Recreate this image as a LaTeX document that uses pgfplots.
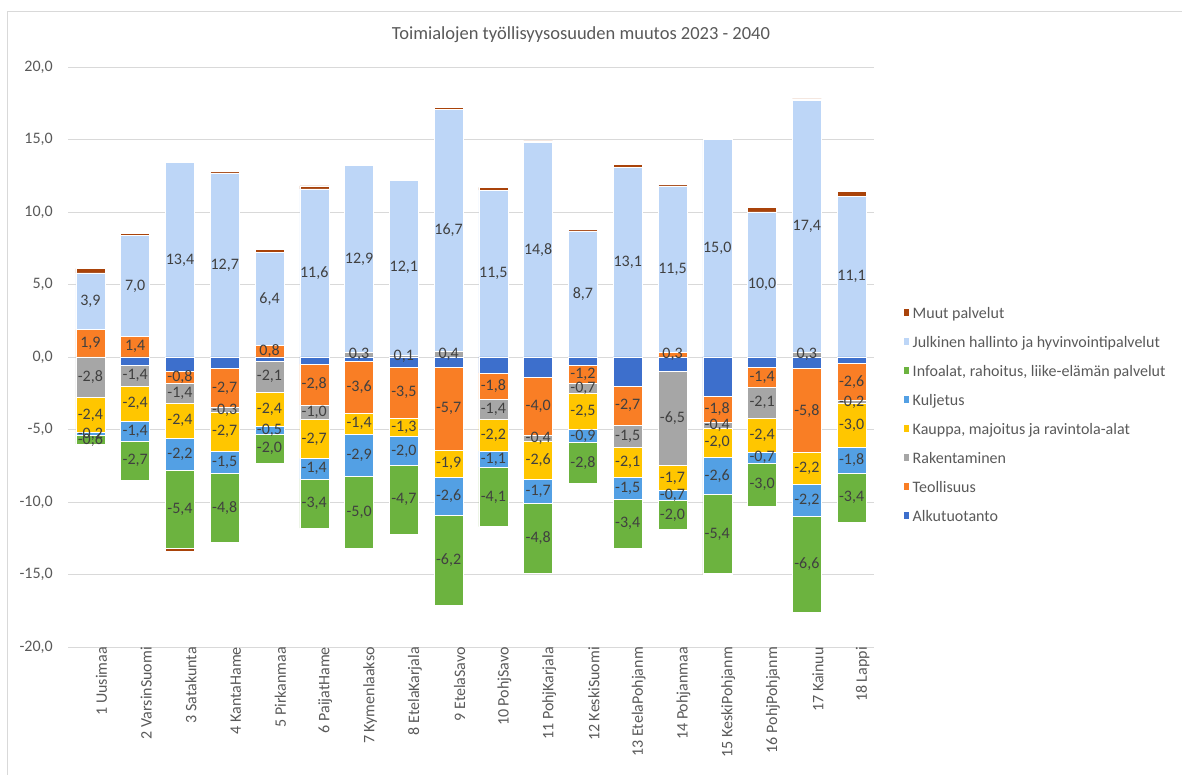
\documentclass[border=0pt]{standalone}
\usepackage{fontspec}
\setmainfont{Carlito}
\usepackage{pgfplots}
\usepackage{pgfplotstable}
\pgfplotsset{compat=1.18}

\definecolor{alku}{HTML}{3D6FCC}
\definecolor{teol}{HTML}{F97E25}
\definecolor{rak}{HTML}{A6A6A6}
\definecolor{kaup}{HTML}{FFC600}
\definecolor{kulj}{HTML}{53A0E4}
\definecolor{info}{HTML}{6CB33F}
\definecolor{julk}{HTML}{BDD6F7}
\definecolor{muut}{HTML}{A9430A}
\definecolor{txt}{HTML}{595959}
\definecolor{lbl}{HTML}{404040}
\definecolor{grd}{HTML}{D9D9D9}

% kasvavat osuudet
\pgfplotstableread{
x  teol rak  julk muut
1  1.9  0    3.9  0.3
2  1.4  0    7.0  0.1
3  0    0    13.4 0
4  0    0    12.7 0.1
5  0.8  0    6.4  0.2
6  0    0    11.6 0.2
7  0    0.3  12.9 0.1
8  0    0.1  12.1 0
9  0    0.4  16.7 0.1
10 0    0    11.5 0.2
11 0    0    14.8 0.1
12 0    0    8.7  0.1
13 0    0    13.1 0.2
14 0.3  0    11.5 0.1
15 0    0    15.0 0
16 0    0    10.0 0.3
17 0    0.3  17.4 0.1
18 0    0    11.1 0.3
}\postab

% laskevat osuudet
\pgfplotstableread{
x  alku teol rak  kaup kulj info muut
1  0    0    -2.8 -2.4 -0.2 -0.6 0
2  -0.6 0    -1.4 -2.4 -1.4 -2.7 0
3  -1.0 -0.8 -1.4 -2.4 -2.2 -5.4 -0.2
4  -0.8 -2.7 -0.3 -2.7 -1.5 -4.8 0
5  -0.3 0    -2.1 -2.4 -0.5 -2.0 0
6  -0.5 -2.8 -1.0 -2.7 -1.4 -3.4 0
7  -0.3 -3.6 0    -1.4 -2.9 -5.0 0
8  -0.7 -3.5 0    -1.3 -2.0 -4.7 0
9  -0.7 -5.7 0    -1.9 -2.6 -6.2 0
10 -1.1 -1.8 -1.4 -2.2 -1.1 -4.1 0
11 -1.4 -4.0 -0.4 -2.6 -1.7 -4.8 0
12 -0.6 -1.2 -0.7 -2.5 -0.9 -2.8 0
13 -2.0 -2.7 -1.5 -2.1 -1.5 -3.4 0
14 -1.0 0    -6.5 -1.7 -0.7 -2.0 0
15 -2.7 -1.8 -0.4 -2.0 -2.6 -5.4 -0.1
16 -0.7 -1.4 -2.1 -2.4 -0.7 -3.0 0
17 -0.8 -5.8 0    -2.2 -2.2 -6.6 0
18 -0.4 -2.6 -0.2 -3.0 -1.8 -3.4 0
}\negtab

\pgfplotsset{
  ybar legend/.style={/pgfplots/legend image code/.code={\fill[##1,draw=none] (0pt,-3.5pt) rectangle (9.5pt,5.5pt);}},
  % arvot palkin keskelle, nollat piiloon
  lab/.style={
    point meta=explicit,
    nodes near coords={\pgfmathfloatifflags{\pgfplotspointmeta}{0}{}{\pgfmathprintnumber{\pgfplotspointmeta}}},
    every node near coord/.style={anchor=center, inner sep=0pt, text=lbl,
      font=\fontsize{16}{19}\selectfont},
  },
}

\begin{document}
\begin{tikzpicture}[font=\fontsize{16}{19}\selectfont]
\begin{axis}[
  scale only axis, width=806pt, height=580pt,
  ybar stacked, bar width=29pt,
  xmin=0.5, xmax=18.5, ymin=-20, ymax=20,
  xtick={1,...,18},
  xticklabels={1 Uusimaa, 2 VarsinSuomi, 3 Satakunta, 4 KantaHame, 5 Pirkanmaa,
    6 PaijatHame, 7 Kymenlaakso, 8 EtelaKarjala, 9 EtelaSavo, 10 PohjSavo,
    11 PohjKarjala, 12 KeskiSuomi, 13 EtelaPohjanm, 14 Pohjanmaa, 15 KeskiPohjanm,
    16 PohjPohjanm, 17 Kainuu, 18 Lappi},
  ytick={-20,-15,...,20},
  ymajorgrids, grid style={grd, line width=0.9pt},
  axis line style={draw=none},
  tick style={draw=none},
  ticklabel style={text=txt, font=\fontsize{16}{19}\selectfont},
  xticklabel style={rotate=90, anchor=east, inner sep=0pt, yshift=-11pt},
  yticklabel style={anchor=east, inner sep=0pt, xshift=-15pt},
  /pgf/number format/use comma, /pgf/number format/fixed,
  /pgf/number format/fixed zerofill, /pgf/number format/precision=1,
  /pgf/number format/assume math mode=true,
  every axis plot/.append style={draw=white, line width=0.5pt},
  reverse legend,
  legend cell align=left,
  legend style={at={(1.036,0.586)}, anchor=north west, draw=none, fill=none,
    inner sep=0pt, row sep=15pt, column sep=3pt, text=txt,
    font=\fontsize{16}{19}\selectfont,
    nodes={inner sep=0pt, text height=11pt, text depth=3pt}},
  clip=false,
]
\coordinate (sw) at (rel axis cs:0,0);
% negatiiviset muutokset (pgfplots pinoaa ne erikseen nollasta alaspäin)
\addplot[fill=alku] table[x=x, y=alku] \negtab; \addlegendentry{Alkutuotanto}
\addplot[fill=teol, lab] table[x=x, y=teol, meta=teol] \negtab; \addlegendentry{Teollisuus}
\addplot[fill=rak, lab] table[x=x, y=rak, meta=rak] \negtab; \addlegendentry{Rakentaminen}
\addplot[fill=kaup, lab] table[x=x, y=kaup, meta=kaup] \negtab; \addlegendentry{Kauppa, majoitus ja ravintola-alat}
\addplot[fill=kulj, lab] table[x=x, y=kulj, meta=kulj] \negtab; \addlegendentry{Kuljetus}
\addplot[fill=info, lab] table[x=x, y=info, meta=info] \negtab; \addlegendentry{Infoalat, rahoitus, liike-elämän palvelut}
\addplot[fill=muut, forget plot] table[x=x, y=muut] \negtab;
% positiiviset muutokset
\addplot[fill=teol, lab, forget plot] table[x=x, y=teol, meta=teol] \postab;
\addplot[fill=rak, lab, forget plot] table[x=x, y=rak, meta=rak] \postab;
\addplot[fill=julk, lab] table[x=x, y=julk, meta=julk] \postab; \addlegendentry{Julkinen hallinto ja hyvinvointipalvelut}
\addplot[fill=muut] table[x=x, y=muut] \postab; \addlegendentry{Muut palvelut}
\end{axis}
\path (sw) ++(513pt,607pt) node[anchor=base, text=txt, font=\fontsize{18.5}{22}\selectfont]
  {Toimialojen työllisyysosuuden muutos 2023 - 2040};
\draw[grd, line width=1pt] (sw) ++(-60pt,-128pt) -- ++(0pt,763pt) -- ++(1174pt,0pt);
\pgfresetboundingbox
\path[use as bounding box] (sw) ++(-68pt,-128pt) rectangle ++(1182pt,775pt);
\end{tikzpicture}
\end{document}
